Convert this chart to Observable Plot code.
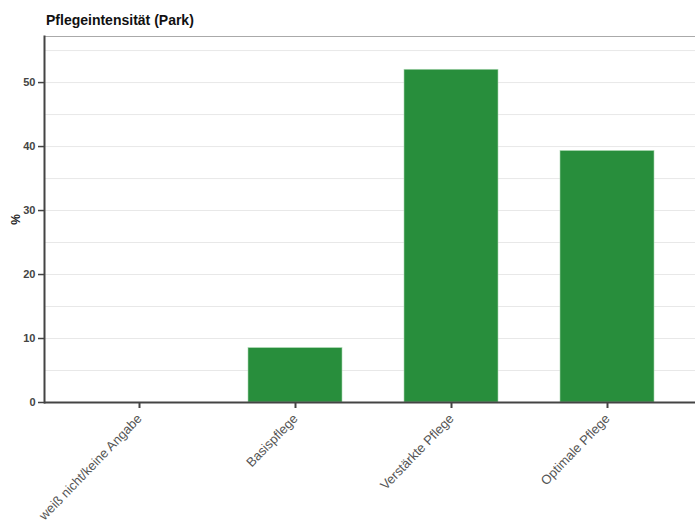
<!DOCTYPE html>
<html>
<head>
<meta charset="utf-8">
<script src="https://cdn.jsdelivr.net/npm/d3@7"></script>
<script src="https://cdn.jsdelivr.net/npm/@observablehq/plot@0.6"></script>
<style>
  body { margin: 0; background: #fff; font-family: "Liberation Sans", Arial, sans-serif; }
  #title { height: 30px; box-sizing: border-box; padding: 12px 0 0 46px; font-size: 14px; font-weight: bold; color: #111; line-height: 16px; }
  #chart svg { display: block; }
</style>
</head>
<body>
<div id="title">Pflegeintensität (Park)</div>
<div id="chart"></div>
<script>
const categories = ["weiß nicht/keine Angabe", "Basispflege", "Verstärkte Pflege", "Optimale Pflege"];
const values = [0, 8.5, 52.0, 39.3];
const yTicks = [0, 10, 20, 30, 40, 50];
const gridTicks = [0, 5, 10, 15, 20, 25, 30, 35, 40, 45, 50, 55];
const yLabel = "%";

const data = categories.map((c, i) => ({cat: c, val: values[i]}));

const chart = Plot.plot({
  width: 695,
  height: 496,
  marginTop: 6,
  marginLeft: 44,
  marginRight: 0,
  marginBottom: 124,
  style: {fontFamily: "Liberation Sans, Arial, sans-serif", fontSize: "11px", color: "#333", background: "#fff"},
  x: {domain: categories, paddingInner: 0.4, paddingOuter: 0.2, insetLeft: 17, insetRight: 10, label: null},
  y: {domain: [0, Math.max(...values) * 1.1], label: yLabel},
  marks: [
    Plot.gridY(gridTicks, {stroke: "#e8e8e8", strokeOpacity: 1}),
    Plot.frame({anchor: "top", stroke: "#aaa"}),
    Plot.barY(data, {x: "cat", y: "val", fill: "#288e3c", stroke: "#a9d7b0", strokeWidth: 0.6}),
    Plot.axisY(yTicks, {tickSize: 6, tickPadding: 3, fontWeight: "bold", fontSize: 11, fill: "#444", stroke: "#444", strokeWidth: 1.5,
      label: yLabel, labelAnchor: "center", labelOffset: 33, labelArrow: "none"}),
    Plot.axisX({tickRotate: -46, tickSize: 6, tickPadding: 8, fontSize: 13, fill: "#555", stroke: "#444", strokeWidth: 2, label: null}),
    Plot.ruleY([0], {stroke: "#444", strokeWidth: 2}),
    Plot.frame({anchor: "left", stroke: "#444", strokeWidth: 2})
  ]
});
document.getElementById("chart").append(chart);
chart.querySelectorAll("g[aria-label='y-axis label'] text").forEach(t => { t.setAttribute("font-weight", "bold"); t.setAttribute("font-size", "12"); t.setAttribute("fill", "#222"); });
</script>
</body>
</html>
